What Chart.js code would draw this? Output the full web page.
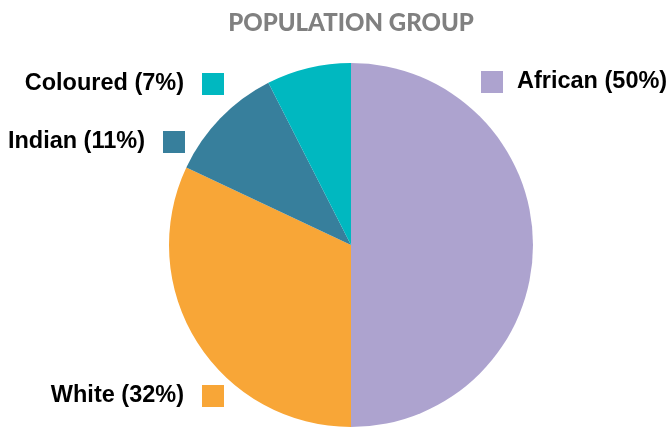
<!DOCTYPE html>
<html>
<head>
<meta charset="utf-8">
<script src="https://cdn.jsdelivr.net/npm/chart.js@4"></script>
<style>
  html, body { margin: 0; padding: 0; background: #fff; }
  #wrap { width: 672px; height: 428px; }
</style>
</head>
<body>
<div id="wrap"><canvas id="pie-chart" width="672" height="428"></canvas></div>
<script>
// population groups, clockwise from 12 o'clock
const groups = ['African', 'White', 'Indian', 'Coloured'];
const shares = [50, 32, 10.5, 7.5];
const shareLabels = ['50%', '32%', '11%', '7%'];
const colours = ['#ada3cf', '#f8a637', '#377f9c', '#00b8c0'];

// where each legend entry sits (text side, middle y, swatch x)
const labelSpots = [
  { side: 'right', swatchX: 481, y: 82 },
  { side: 'left', swatchX: 202, y: 396 },
  { side: 'left', swatchX: 163, y: 142 },
  { side: 'left', swatchX: 202, y: 84 }
];

const labelsPlugin = {
  id: 'groupLabels',
  afterDraw(chart) {
    const ctx = chart.ctx;
    ctx.save();
    // title
    ctx.fillStyle = '#808080';
    ctx.font = '900 24px Lato';
    ctx.textAlign = 'center';
    ctx.textBaseline = 'middle';
    ctx.fillText('POPULATION GROUP', 351, 23);

    ctx.font = 'bold 23.5px "Liberation Sans"';
    ctx.textBaseline = 'middle';
    groups.forEach((g, i) => {
      const s = labelSpots[i];
      const sz = 22;
      ctx.fillStyle = colours[i];
      ctx.fillRect(s.swatchX, s.y - sz / 2, sz, sz);
      ctx.fillStyle = '#000';
      const txt = g + ' (' + shareLabels[i] + ')';
      if (s.side === 'right') {
        ctx.textAlign = 'left';
        ctx.fillText(txt, s.swatchX + sz + 14, s.y);
      } else {
        ctx.textAlign = 'right';
        ctx.fillText(txt, s.swatchX - 18, s.y);
      }
    });
    ctx.restore();
  }
};

new Chart(document.getElementById('pie-chart').getContext('2d'), {
  type: 'pie',
  data: {
    labels: groups,
    datasets: [{
      data: shares,
      backgroundColor: colours,
      borderWidth: 0
    }]
  },
  options: {
    responsive: false,
    animation: false,
    layout: { padding: { top: 63, bottom: 1, left: 169, right: 139 } },
    plugins: {
      legend: { display: false },
      tooltip: { enabled: false }
    }
  },
  plugins: [labelsPlugin]
});
</script>
</body>
</html>
